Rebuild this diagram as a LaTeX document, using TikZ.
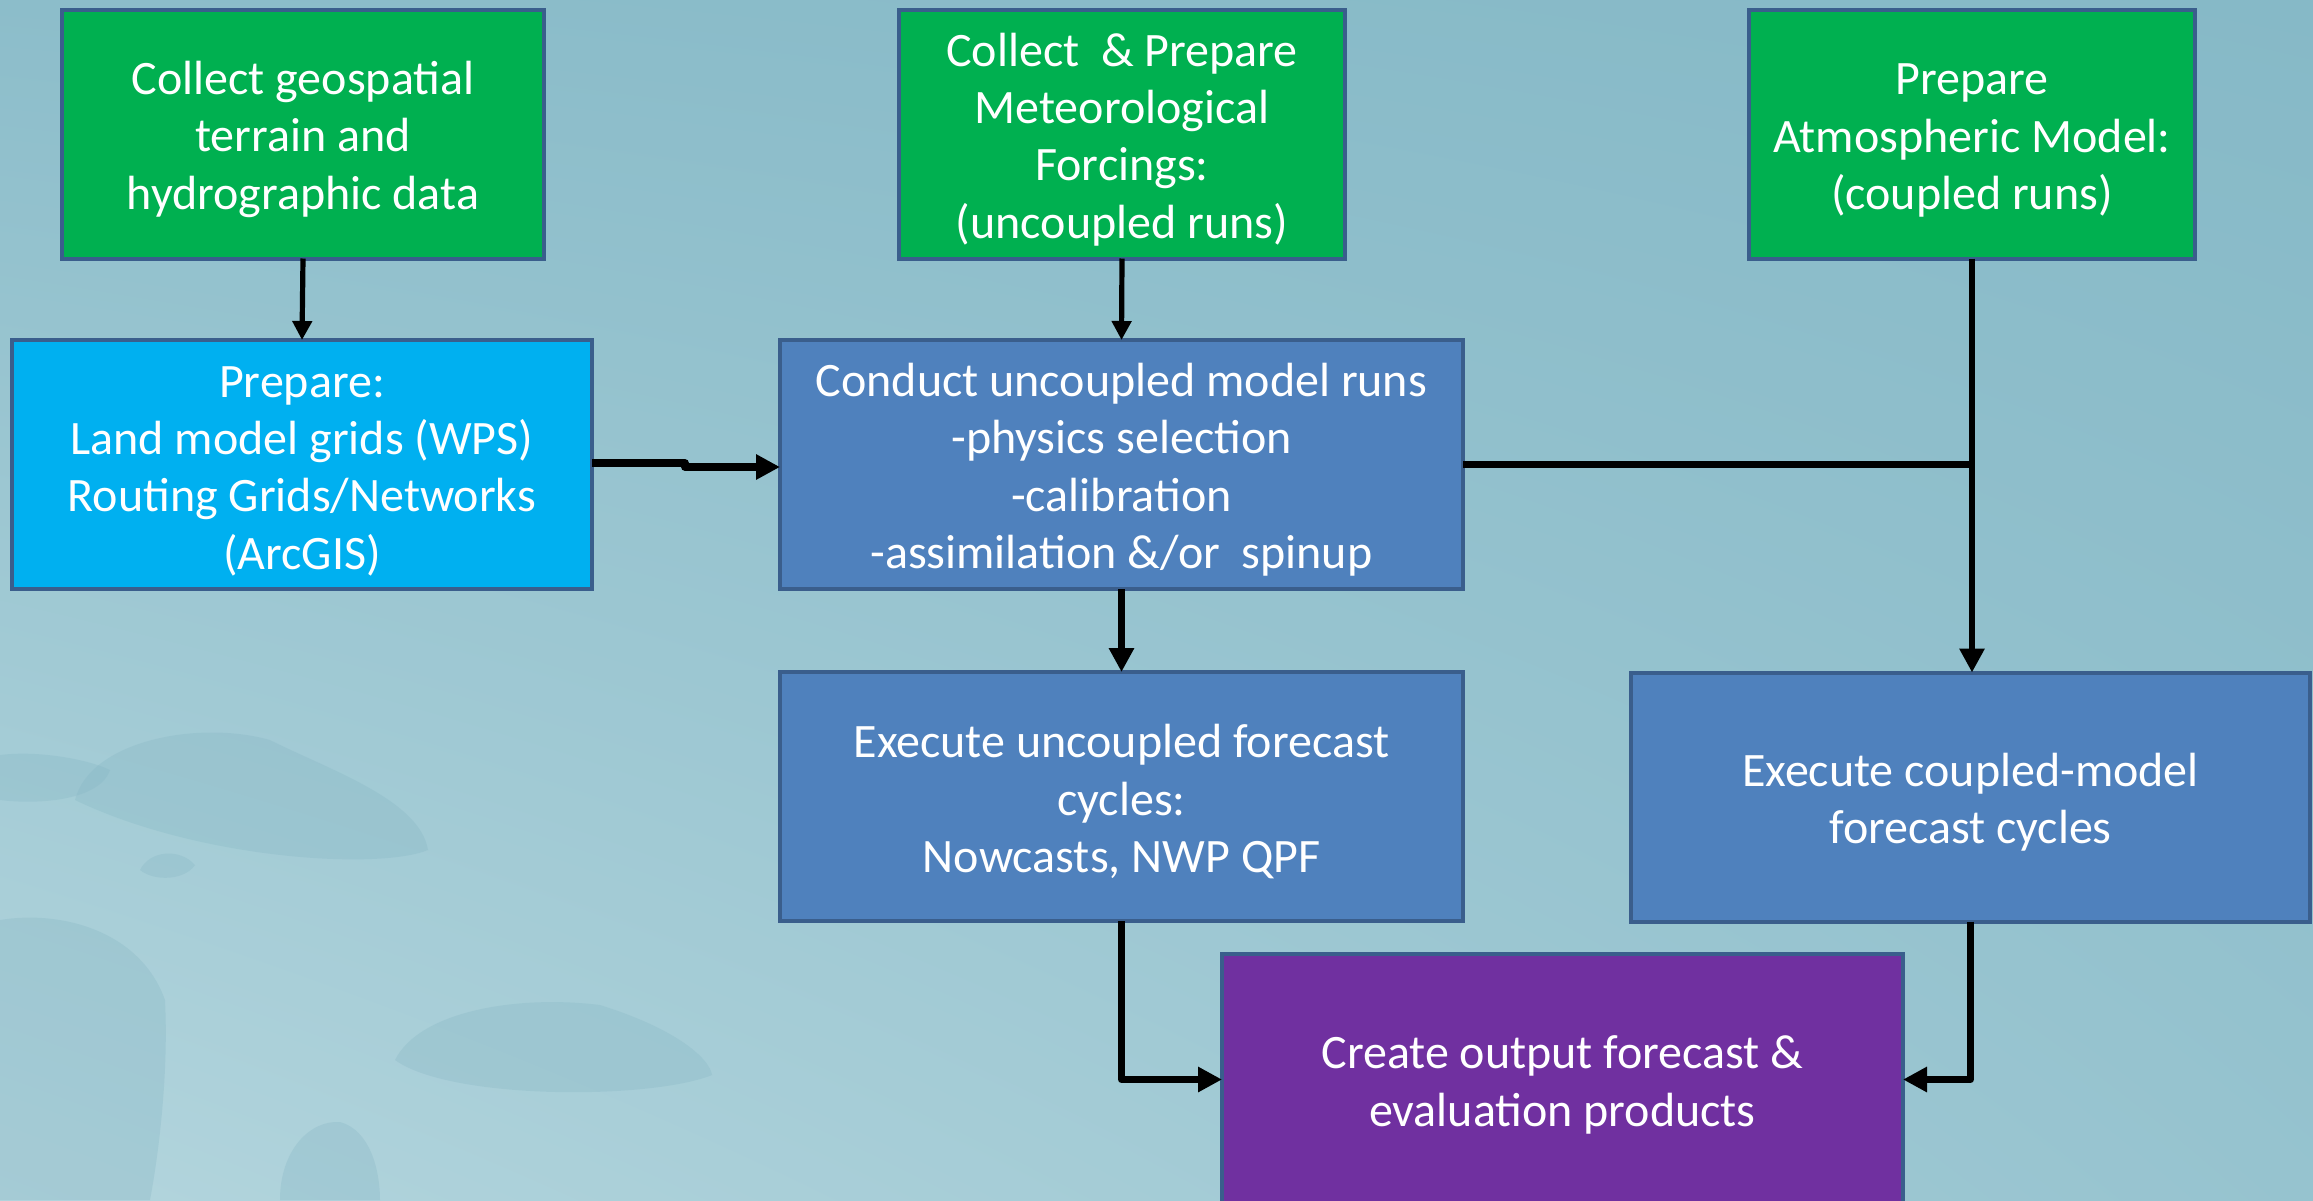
\documentclass[tikz,border=0pt]{standalone}
\usepackage{fontspec}
\setmainfont{Carlito}
\usetikzlibrary{arrows.meta,shadings}
\definecolor{boxline}{HTML}{3A5E8C}
\definecolor{cgreen}{HTML}{00B050}
\definecolor{ccyan}{HTML}{00B0F0}
\definecolor{cblue}{HTML}{4F81BD}
\definecolor{cpurple}{HTML}{7030A0}
\definecolor{bgul}{HTML}{8CBDCA}
\definecolor{bgur}{HTML}{86B9C7}
\definecolor{bgll}{HTML}{B3D5DD}
\definecolor{bglr}{HTML}{96C3CF}
\definecolor{rock}{HTML}{86B6C4}
\newcommand\firstline{\rule{0pt}{22pt}}
\begin{document}
\begin{tikzpicture}[x=0.5pt,y=-0.5pt,
  box/.style={draw=boxline, line width=2pt, text=white, align=center,
    minimum height=124.5pt, inner sep=0pt, outer sep=0pt,
    font=\fontsize{24pt}{28.7pt}\selectfont},
  greenbox/.style={box, fill=cgreen},
  cyanbox/.style={box, fill=ccyan},
  bluebox/.style={box, fill=cblue},
  purplebox/.style={box, fill=cpurple},
  thinarrow/.style={line width=2.6pt, -{Triangle[length=9.5pt,width=9.5pt]}, line join=round},
  thickarrow/.style={line width=3.4pt, -{Triangle[length=12pt,width=12pt]}, line join=round},
  thickline/.style={line width=3.4pt, line join=round}
]
\useasboundingbox (0,0) rectangle (2313,1200);
\shade[upper left=bgul, upper right=bgur, lower left=bgll, lower right=bglr] (0,0) rectangle (2313,1200);
% faint rocks of the background photo
\begin{scope}[fill=rock, opacity=0.3]
  \fill (75,800) .. controls (90,740) and (200,720) .. (270,740) .. controls (330,770) and (420,800) .. (428,850) .. controls (380,870) and (200,860) .. (75,800) -- cycle;
  \fill (0,755) .. controls (40,750) and (90,760) .. (110,770) .. controls (100,800) and (40,805) .. (0,800) -- cycle;
  \fill (395,1060) .. controls (420,1010) and (520,995) .. (600,1005) .. controls (680,1030) and (710,1060) .. (712,1075) .. controls (650,1100) and (450,1100) .. (395,1060) -- cycle;
  \fill (0,920) .. controls (60,910) and (140,930) .. (165,1000) .. controls (170,1100) and (150,1200) .. (150,1200) -- (0,1200) -- cycle;
  \fill (280,1200) .. controls (280,1150) and (310,1120) .. (340,1122) .. controls (370,1130) and (380,1170) .. (380,1200) -- cycle;
  \fill (140,870) .. controls (150,850) and (180,848) .. (195,865) .. controls (185,880) and (155,882) .. (140,870) -- cycle;
\end{scope}

% nodes
\node[greenbox, minimum width=241pt] (g1) at (303,134) {\firstline Collect geospatial\\terrain and\\hydrographic data};
\node[greenbox, minimum width=223pt] (g2) at (1122,134) {\firstline Collect \ \& Prepare\\Meteorological\\Forcings:\\(uncoupled runs)};
\node[greenbox, minimum width=223pt] (g3) at (1972,134) {\firstline Prepare\\Atmospheric Model:\\(coupled runs)};
\node[cyanbox, minimum width=290pt] (prep) at (302,464.5) {\firstline Prepare:\\Land model grids (WPS)\\Routing Grids/Networks\\(ArcGIS)};
\node[bluebox, minimum width=341.5pt] (cond) at (1121.5,464.5) {\firstline Conduct uncoupled model runs\\-physics selection\\-calibration\\-assimilation \&/or \ spinup};
\node[bluebox, minimum width=341.5pt] (exu) at (1121.5,796.5) {\firstline Execute uncoupled forecast\\cycles:\\Nowcasts, NWP QPF};
\node[bluebox, minimum width=339.5pt] (exc) at (1970.5,797) {\firstline Execute coupled-model\\forecast cycles};
\node[purplebox, minimum width=340.5pt, minimum height=125.5pt] (out) at (1562.5,1079.5) {\firstline Create output forecast \&\\evaluation products};

% connectors
\draw[thinarrow] (g1.south) -- (prep.north);
\draw[thinarrow] (g2.south) -- (cond.north);
\draw[thickarrow, line width=3.8pt] ([yshift=0.75pt]prep.east) -- ++(93,0) |- ([yshift=-1.25pt]cond.west);
\coordinate (junc) at (g3.south |- cond.east);
\draw[thickline] (cond.east) -- (junc);
\draw[thickarrow] (g3.south) -- (g3.south |- exc.north);
\draw[thickarrow] (cond.south) -- (exu.north);
\draw[thickarrow] (exu.south) |- (out.west);
\draw[thickarrow] (exc.south) |- (out.east);
\end{tikzpicture}
\end{document}
